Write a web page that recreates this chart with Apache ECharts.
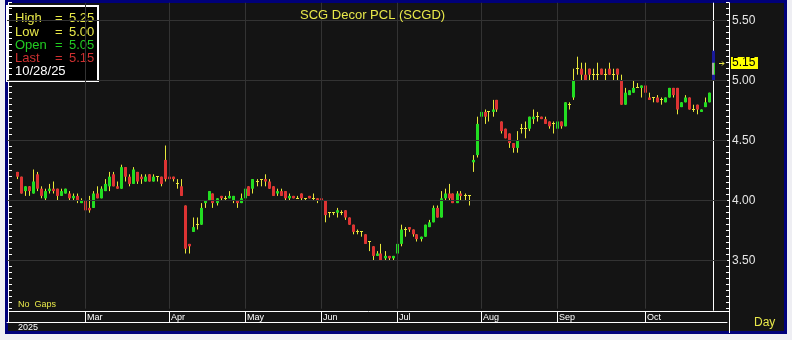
<!DOCTYPE html>
<html><head><meta charset="utf-8">
<script src="https://cdn.jsdelivr.net/npm/echarts@6/dist/echarts.min.js"></script>
<style>html,body{margin:0;padding:0;background:#eeeef3;}#c{width:792px;height:340px;}</style>
</head><body><div id="c"></div>
<script>
// ---- data ----
const opens  = [4.24,4.20,4.08,4.12,4.06,4.22,4.10,4.02,4.08,4.10,4.10,4.04,4.06,4.06,4.02,4.04,3.98,4.00,3.94,3.94,
4.06,4.02,4.08,4.12,4.22,4.12,4.10,4.28,4.20,4.14,4.24,4.20,4.16,4.22,4.16,4.20,4.20,4.34,4.20,4.20,
4.14,4.12,3.96,3.64,3.74,3.80,3.80,3.98,4.00,4.06,3.98,4.04,4.02,4.02,4.00,4.00,3.98,4.02,4.12,4.10,
4.16,4.18,4.18,4.16,4.12,4.06,4.08,4.08,4.02,4.04,4.02,4.06,4.02,4.04,4.02,4.02,4.02,4.00,3.90,3.90,
3.90,3.90,3.92,3.86,3.80,3.74,3.74,3.72,3.66,3.62,3.54,3.56,3.52,3.54,3.52,3.56,3.64,3.76,3.78,3.76,
3.72,3.68,3.70,3.78,3.82,3.94,3.86,4.02,4.06,4.06,3.98,4.06,4.04,4.04,4.32,4.38,4.70,4.74,4.74,4.74,
4.84,4.66,4.60,4.56,4.48,4.44,4.60,4.60,4.60,4.68,4.70,4.70,4.68,4.66,4.64,4.60,4.66,4.62,4.80,4.86,
5.10,5.10,5.05,5.10,5.05,5.05,5.10,5.05,5.10,5.05,5.10,5.00,4.80,4.88,4.90,4.94,4.94,4.96,4.86,4.86,
4.86,4.84,4.82,4.86,4.94,4.94,4.78,4.82,4.86,4.76,4.80,4.74,4.78,4.82,5.05];
const highs  = [4.24,4.20,4.12,4.12,4.26,4.24,4.12,4.10,4.14,4.16,4.10,4.10,4.10,4.08,4.06,4.06,4.02,4.02,4.04,4.08,
4.12,4.12,4.18,4.24,4.24,4.16,4.30,4.28,4.22,4.28,4.24,4.22,4.22,4.22,4.22,4.20,4.20,4.46,4.24,4.20,
4.18,4.18,3.96,3.64,3.86,3.86,3.98,4.00,4.08,4.06,4.02,4.04,4.04,4.08,4.04,4.00,4.06,4.10,4.12,4.18,
4.18,4.18,4.22,4.18,4.12,4.10,4.10,4.08,4.06,4.04,4.04,4.06,4.02,4.04,4.06,4.02,4.02,4.00,3.90,3.90,
3.94,3.92,3.92,3.86,3.80,3.76,3.74,3.72,3.66,3.62,3.58,3.64,3.58,3.54,3.54,3.64,3.80,3.78,3.78,3.76,
3.72,3.70,3.80,3.84,3.96,3.96,4.08,4.10,4.14,4.06,4.08,4.08,4.06,4.04,4.38,4.70,4.80,4.76,4.74,4.84,
4.84,4.66,4.60,4.56,4.48,4.58,4.64,4.66,4.70,4.76,4.74,4.70,4.70,4.66,4.66,4.66,4.66,4.82,4.82,5.10,
5.20,5.15,5.15,5.10,5.10,5.15,5.10,5.10,5.15,5.10,5.10,5.05,4.94,4.92,5.00,4.98,4.96,4.96,4.90,4.86,
4.88,4.86,4.86,4.94,4.94,4.94,4.82,4.88,4.86,4.80,4.80,4.76,4.86,4.90,5.25];
const lows   = [4.18,4.06,4.04,4.04,4.06,4.08,4.02,4.00,4.06,4.06,4.00,4.04,4.06,4.00,4.00,3.98,3.98,3.92,3.90,3.94,
4.02,4.02,4.08,4.08,4.12,4.10,4.10,4.16,4.12,4.14,4.14,4.14,4.16,4.16,4.16,4.16,4.12,4.16,4.16,4.16,
4.10,4.04,3.56,3.56,3.74,3.76,3.80,3.94,4.00,3.94,3.96,4.00,4.00,4.02,3.98,3.94,3.98,4.02,4.04,4.06,
4.12,4.12,4.12,4.10,4.04,4.04,4.04,4.00,4.00,4.02,4.02,4.00,4.00,4.02,4.00,3.98,3.98,3.82,3.86,3.88,
3.86,3.88,3.84,3.80,3.72,3.72,3.70,3.64,3.58,3.50,3.54,3.50,3.50,3.50,3.50,3.54,3.62,3.70,3.74,3.70,
3.66,3.66,3.70,3.78,3.82,3.86,3.86,4.00,4.00,3.98,3.98,4.00,4.00,3.96,4.24,4.36,4.64,4.64,4.66,4.70,
4.74,4.56,4.52,4.44,4.40,4.40,4.56,4.52,4.58,4.64,4.66,4.68,4.64,4.60,4.56,4.60,4.60,4.62,4.76,4.84,
5.05,5.00,5.00,5.00,5.00,5.00,5.05,5.00,5.05,5.00,5.00,4.80,4.80,4.88,4.90,4.94,4.86,4.90,4.84,4.82,
4.82,4.80,4.82,4.86,4.86,4.72,4.78,4.82,4.76,4.74,4.72,4.74,4.78,4.82,5.00];
const closes = [4.20,4.06,4.12,4.08,4.16,4.10,4.04,4.08,4.10,4.08,4.04,4.08,4.10,4.02,4.04,4.00,4.00,3.92,3.92,4.06,
4.02,4.10,4.14,4.20,4.12,4.10,4.28,4.20,4.14,4.26,4.16,4.18,4.20,4.16,4.20,4.20,4.14,4.18,4.18,4.18,
4.14,4.04,3.60,3.62,3.78,3.80,3.94,4.00,4.08,3.98,4.02,4.02,4.02,4.04,4.04,3.98,4.02,4.10,4.04,4.18,
4.16,4.18,4.16,4.10,4.04,4.08,4.04,4.02,4.04,4.02,4.02,4.02,4.02,4.02,4.02,4.00,4.00,3.88,3.90,3.90,
3.92,3.90,3.86,3.80,3.74,3.74,3.74,3.64,3.66,3.54,3.56,3.50,3.54,3.52,3.54,3.64,3.76,3.76,3.76,3.72,
3.68,3.70,3.80,3.82,3.94,3.86,4.02,4.06,4.02,3.98,4.06,4.04,4.04,4.04,4.34,4.64,4.74,4.70,4.74,4.76,
4.76,4.58,4.52,4.48,4.44,4.50,4.60,4.60,4.70,4.70,4.70,4.68,4.64,4.62,4.64,4.66,4.62,4.82,4.80,5.00,
5.10,5.05,5.00,5.05,5.05,5.05,5.05,5.05,5.05,5.05,5.05,4.80,4.90,4.92,4.94,4.94,4.96,4.90,4.84,4.86,
4.82,4.84,4.86,4.94,4.88,4.76,4.82,4.86,4.76,4.76,4.76,4.76,4.82,4.90,5.15];
const monthLabels = ['Mar','Apr','May','Jun','Jul','Aug','Sep','Oct'];
const monthStarts = [17,38,57,76,95,116,135,157];   // bar index of first bar of each month
const yGridValues = [3.5,4.0,4.5,5.0,5.5];
const yearLabel = '2025';
const lastDateLabel = '10/28/25';
const chartTitle = 'SCG Decor PCL (SCGD)';

// ---- styling ----
const GREEN='#22dd22', RED='#dd3333', WICK='#e8e83a', YEL='#e8e84a', GRIDC='#333333';
const FONT='"Liberation Sans", Arial, sans-serif';
const LEAD=2, TRAIL=3;
const N=opens.length;
const cats=[]; for(let k=0;k<LEAD+N+TRAIL;k++) cats.push(String(k));
const candleData=opens.map((o,i)=>[i+LEAD,o,closes[i],lows[i],highs[i]]);

function renderCandle(params, api){
  const xi=api.value(0), o=api.value(1), c=api.value(2), l=api.value(3), h=api.value(4);
  const pO=api.coord([xi,o]), pC=api.coord([xi,c]), pL=api.coord([xi,l]), pH=api.coord([xi,h]);
  const cx=Math.floor(pO[0]);
  const cs=params.coordSys;
  const ch=[];
  const top=Math.min(pO[1],pC[1]), bot=Math.max(pO[1],pC[1]);
  if(params.dataIndex===N-1){
    ch.push({type:'line',shape:{x1:cx+0.5,y1:cs.y,x2:cx+0.5,y2:cs.y+cs.height+2},style:{stroke:'#ffffff',lineWidth:1}});
    ch.push({type:'rect',shape:{x:cx-1,y:pH[1],width:3,height:pL[1]-pH[1]},style:{fill:'#1a1a9a'}});
    ch.push({type:'rect',shape:{x:cx-1,y:top,width:2,height:bot-top},style:{fill:'#a8a8a8'}});
    ch.push({type:'rect',shape:{x:cx+1,y:top,width:1,height:bot-top},style:{fill:GREEN}});
    return {type:'group',children:ch};
  }
  ch.push({type:'line',shape:{x1:cx+0.5,y1:pH[1],x2:cx+0.5,y2:pL[1]},style:{stroke:WICK,lineWidth:1}});
  if(Math.abs(o-c)<1e-9){
    ch.push({type:'rect',shape:{x:cx-1,y:Math.floor(pO[1]),width:3,height:1},style:{fill:WICK}});
  } else {
    ch.push({type:'rect',shape:{x:cx-1,y:top,width:3,height:Math.max(1,bot-top)},style:{fill:c>o?GREEN:RED}});
  }
  return {type:'group',children:ch};
}

const chart=echarts.init(document.getElementById('c'),null,{renderer:'canvas'});
const isMonth=(i)=>monthStarts.indexOf(i-LEAD)>=0;
const last=N-1;

function baseGraphics(){
  return [
    {id:'blue',type:'rect',z:-2,silent:true,shape:{x:5,y:0,width:782,height:334},style:{fill:'#00007a'}},
    {id:'dark',type:'rect',z:-1,silent:true,shape:{x:8,y:3,width:776,height:328},style:{fill:'#141414'}},
    {id:'bandTop',type:'line',z:5,shape:{x1:8,y1:311.5,x2:729,y2:311.5},style:{stroke:'#ffffff',lineWidth:1}},
    {id:'axisExt',type:'line',z:5,shape:{x1:729.5,y1:3,x2:729.5,y2:333},style:{stroke:'#ffffff',lineWidth:1}},
    {id:'leftLine',type:'line',z:5,shape:{x1:8.5,y1:3,x2:8.5,y2:322},style:{stroke:'#ffffff',lineWidth:1}},
    {id:'legend',type:'group',z:20,left:6,top:5,children:[
      {type:'rect',shape:{x:0,y:0,width:91,height:75},style:{fill:'#000000',stroke:'#ffffff',lineWidth:2}},
      {type:'text',x:8,y:12,style:{text:'High',fill:YEL,font:'13px '+FONT,textVerticalAlign:'middle'}},
      {type:'text',x:48,y:12,style:{text:'=',fill:YEL,font:'13px '+FONT,textVerticalAlign:'middle'}},
      {type:'text',x:62,y:12,style:{text:highs[last].toFixed(2),fill:YEL,font:'13px '+FONT,textVerticalAlign:'middle'}},
      {type:'text',x:8,y:26,style:{text:'Low',fill:YEL,font:'13px '+FONT,textVerticalAlign:'middle'}},
      {type:'text',x:48,y:26,style:{text:'=',fill:YEL,font:'13px '+FONT,textVerticalAlign:'middle'}},
      {type:'text',x:62,y:26,style:{text:lows[last].toFixed(2),fill:YEL,font:'13px '+FONT,textVerticalAlign:'middle'}},
      {type:'text',x:8,y:39,style:{text:'Open',fill:'#22cc22',font:'13px '+FONT,textVerticalAlign:'middle'}},
      {type:'text',x:48,y:39,style:{text:'=',fill:'#22cc22',font:'13px '+FONT,textVerticalAlign:'middle'}},
      {type:'text',x:62,y:39,style:{text:opens[last].toFixed(2),fill:'#22cc22',font:'13px '+FONT,textVerticalAlign:'middle'}},
      {type:'text',x:8,y:52,style:{text:'Last',fill:'#cc3030',font:'13px '+FONT,textVerticalAlign:'middle'}},
      {type:'text',x:48,y:52,style:{text:'=',fill:'#cc3030',font:'13px '+FONT,textVerticalAlign:'middle'}},
      {type:'text',x:62,y:52,style:{text:closes[last].toFixed(2),fill:'#cc3030',font:'13px '+FONT,textVerticalAlign:'middle'}},
      {type:'text',x:8,y:65,style:{text:lastDateLabel,fill:'#ffffff',font:'13px '+FONT,textVerticalAlign:'middle'}}
    ]},
    {id:'nogaps',type:'text',z:5,x:18,y:305,style:{text:'No  Gaps',fill:YEL,font:'9px '+FONT,textVerticalAlign:'middle'}},
    {id:'year',type:'text',z:5,x:18,y:328,style:{text:yearLabel,fill:'#ffffff',font:'9px '+FONT,textVerticalAlign:'middle'}},
    {id:'day',type:'text',z:5,x:754,y:323,style:{text:'Day',fill:YEL,font:'12px '+FONT,textVerticalAlign:'middle'}}
  ];
}

const yCommon={type:'value',min:3.10,max:5.65,interval:0.05,scale:true,splitLine:{show:false}};
chart.setOption({
  animation:false,
  backgroundColor:'#eeeef3',
  title:{text:chartTitle,left:295,top:4,textStyle:{color:YEL,fontSize:13,fontWeight:'normal',fontFamily:FONT}},
  grid:[
    {left:7,top:2.7,width:720,height:306,containLabel:false},
    {left:7,top:311,width:720,height:11,containLabel:false}
  ],
  xAxis:[
    {gridIndex:0,type:'category',data:cats,show:false},
    {gridIndex:1,type:'category',data:cats,position:'bottom',
      axisLine:{show:true,lineStyle:{color:'#ffffff',width:1}},
      axisTick:{show:true,inside:true,length:11,alignWithLabel:true,interval:(i)=>isMonth(i),lineStyle:{color:'#ffffff'}},
      axisLabel:{show:true,inside:true,margin:0,interval:(i)=>isMonth(i),
        formatter:(v,i)=>{const k=monthStarts.indexOf(Number(v)-LEAD);return k>=0?monthLabels[k]:'';},
        align:'left',padding:[0,0,0,2],color:'#ffffff',fontSize:9,fontFamily:FONT},
      splitLine:{show:false}}
  ],
  yAxis:[
    Object.assign({gridIndex:0,position:'right',offset:2,
      axisLine:{show:true,lineStyle:{color:'#ffffff'}},
      axisTick:{show:true,inside:true,length:3,lineStyle:{color:'#ffffff'}},
      axisLabel:{show:true,margin:3,color:'#e6e6e6',fontSize:12,fontFamily:FONT,
        formatter:(v)=>Math.abs(v*2-Math.round(v*2))<1e-6?v.toFixed(2):''}},yCommon),
    Object.assign({gridIndex:0,position:'left',offset:-1,
      axisLine:{show:true,lineStyle:{color:'#ffffff'}},
      axisTick:{show:true,inside:true,length:4,lineStyle:{color:'#ffffff'}},
      axisLabel:{show:false}},yCommon),
    {gridIndex:1,type:'value',show:false}
  ],
  series:[
    {type:'line',xAxisIndex:0,yAxisIndex:0,data:[],z:1,silent:true,
      markLine:{silent:true,symbol:'none',animation:false,label:{show:false},
        lineStyle:{color:GRIDC,type:'solid',width:1},
        data:[...yGridValues.map(v=>({yAxis:v})),...monthStarts.map(s=>({xAxis:String(s+LEAD)}))]}},
    {type:'custom',xAxisIndex:0,yAxisIndex:0,z:3,data:candleData,renderItem:renderCandle,
      encode:{x:0,y:[1,2,3,4]},clip:false}
  ],
  graphic:baseGraphics()
});

// price tag for the last close, positioned through the chart's own scale
const pt=chart.convertToPixel({xAxisIndex:0,yAxisIndex:0},[String(last+LEAD),closes[last]]);
const ay=Math.round(pt[1])+0.5, ax=Math.round(pt[0])+6;
const g=baseGraphics();
g.push({id:'arrowL',type:'line',z:10,shape:{x1:ax,y1:ay,x2:ax+5,y2:ay},style:{stroke:YEL,lineWidth:1}});
g.push({id:'arrowH',type:'polyline',z:10,shape:{points:[[ax+3,ay-2],[ax+5,ay],[ax+3,ay+2]]},style:{stroke:YEL,lineWidth:1,fill:null}});
g.push({id:'tagbg',type:'rect',z:10,shape:{x:731,y:Math.round(pt[1])-6,width:27,height:12},style:{fill:'#ffff00'}});
g.push({id:'tag',type:'text',z:11,x:732,y:pt[1],style:{text:closes[last].toFixed(2),fill:'#000000',font:'12px '+FONT,textVerticalAlign:'middle'}});
chart.setOption({graphic:g});
</script></body></html>
